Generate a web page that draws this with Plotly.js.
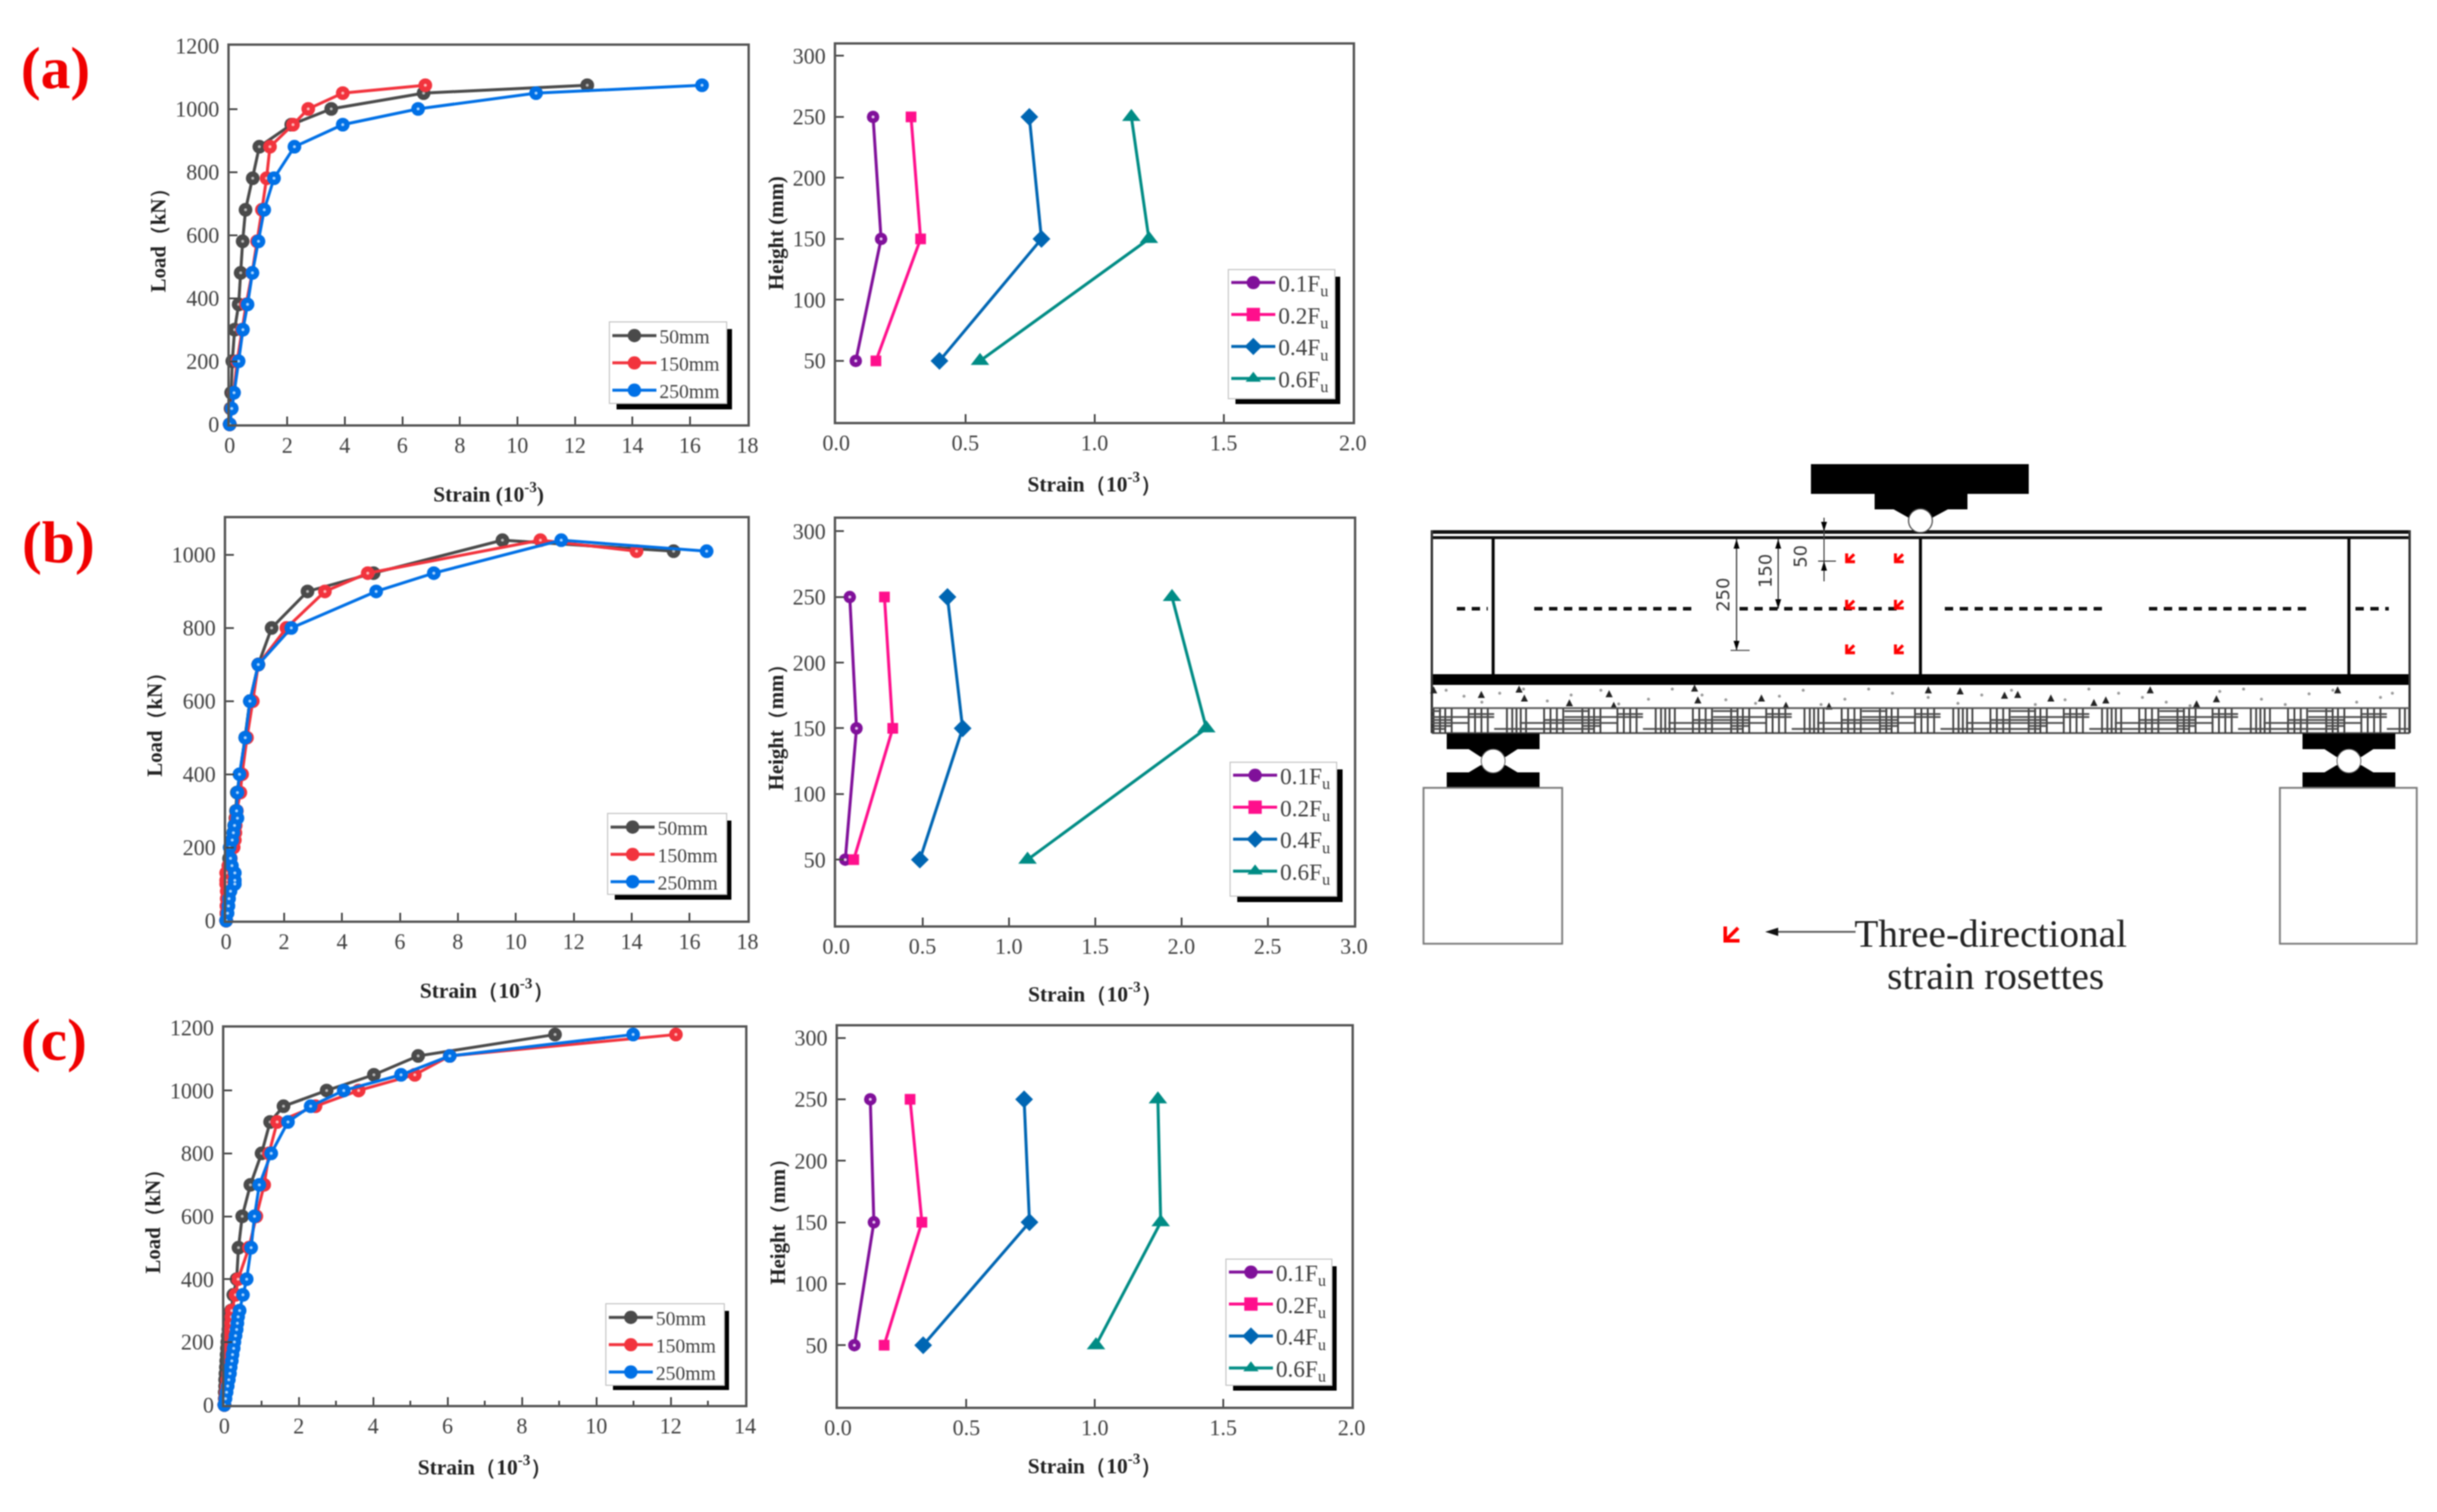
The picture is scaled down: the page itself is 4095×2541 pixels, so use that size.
<!DOCTYPE html>
<html><head><meta charset="utf-8">
<script src="https://cdn.plot.ly/plotly-3.0.1.min.js"></script>
<style>html,body{margin:0;padding:0;background:#fff}#chart{width:4095px;height:2541px;filter:blur(0.8px)}</style>
</head><body><div id="chart"></div>
<script>
// ---------- data ----------
const aLoad50=[1075,1050,1000,950,880,780,680,580,480,380,300,200,100,50,0];
const aStrain50=[12.43,6.74,3.53,2.14,1.03,0.8,0.55,0.45,0.38,0.31,0.17,0.09,0.05,0.03,0];
const aStrain150=[6.8,3.93,2.73,2.2,1.4,1.28,1.12,0.95,0.78,0.57,0.43,0.26,0.14,0.06,0];
const aStrain250=[16.42,10.65,6.55,3.93,2.25,1.54,1.2,1.0,0.79,0.62,0.46,0.31,0.15,0.07,0];

const bLoad=[1010,1040,950,900,800,700,600,500,400,350,300,280,260,240,220,200,170,150,130,110,100,80,60,40,20,0];
const bStrain50=[15.45,9.54,5.09,2.81,1.57,1.11,0.82,0.66,0.48,0.37,0.34,0.32,0.28,0.24,0.2,0.16,0.1,0.08,0.06,0.05,0.05,0.04,0.03,0.02,0.01,0];
const bStrain150=[14.17,10.85,4.89,3.41,2.08,1.11,0.92,0.72,0.55,0.49,0.37,0.34,0.33,0.32,0.3,0.26,0.16,0.08,0,0,0,0.02,0.02,0.01,0.01,0];
const bStrain250=[16.59,11.57,7.17,5.18,2.25,1.11,0.82,0.66,0.46,0.39,0.36,0.39,0.29,0.25,0.21,0.12,0.15,0.2,0.3,0.3,0.3,0.15,0.1,0.08,0.05,0];

const cLoad=[1178,1110,1050,1000,950,900,800,700,600,500,400,350,300,280,260,240,220,200,180,160,140,120,100,80,60,40,20,0];
const cStrain50=[8.89,5.21,4.02,2.75,1.59,1.23,1.0,0.7,0.48,0.38,0.33,0.24,0.18,0.15,0.13,0.11,0.09,0.08,0.07,0.06,0.05,0.04,0.03,0.02,0.02,0.01,0.01,0];
const cStrain150=[12.14,6.06,5.12,3.61,2.45,1.42,1.2,1.07,0.86,0.66,0.37,0.3,0.2,0.19,0.18,0.17,0.16,0.15,0.14,0.13,0.12,0.11,0.1,0.08,0.06,0.04,0.02,0];
const cStrain250=[10.99,6.06,4.75,3.21,2.32,1.71,1.26,0.94,0.81,0.72,0.6,0.5,0.41,0.37,0.35,0.33,0.3,0.27,0.25,0.22,0.2,0.17,0.15,0.12,0.09,0.06,0.03,0];

const heights=[250,150,50];
const aF1=[0.143,0.174,0.076], aF2=[0.29,0.327,0.154], aF4=[0.748,0.795,0.40], aF6=[1.143,1.211,0.557];
const bF1=[0.079,0.118,0.053], bF2=[0.28,0.328,0.102], bF4=[0.645,0.733,0.485], bF6=[1.946,2.145,1.109];
const cF1=[0.126,0.14,0.064], cF2=[0.281,0.327,0.18], cF4=[0.725,0.746,0.332], cF6=[1.246,1.257,1.005];

const loadNames=['50mm','150mm','250mm'];
const ratioNames=['0.1F<sub>u</sub>','0.2F<sub>u</sub>','0.4F<sub>u</sub>','0.6F<sub>u</sub>'];
const panelLetters=['(a)','(b)','(c)'];
const loadColors=['#4a4a4a','#f2333d','#0070e6'];
const loadCore=['#b8b8b8','#ffb8b8','#a8d4ff'];
const ratioColors=['#80109a','#ff0f8c','#0066b3','#008c85'];
const ratioSymbols=['circle','square','diamond','triangle-up'];
const ratioSizes=[21,18,23,27];

// ---------- page geometry ----------
const W=4095,H=2541;
const SERIF='"Liberation Serif","Times New Roman",serif';
const px=x=>x/W, py=y=>1-y/H;
const INK='#555555', TXT='#404040';

const panels=[
 {box:[386,1256,77,713], xr:[0,18], xd:2, yr:[0,1200], yd:200, kind:'load', xt:'Strain (10<sup>-3</sup>)', yt:'Load（kN）', xs:50,
  s:[aStrain50,aStrain150,aStrain250], ys:[aLoad50,aLoad50,aLoad50], lg:[1024,1221,541,678,1230,688]},
 {box:[1405,2273,74.5,709], xr:[0,2], xd:0.5, yr:[0,309.5], yd:50, kind:'ratio', xt:'Strain（10<sup>-3</sup>）', yt:'Height (mm)', xs:37,
  s:[aF1,aF2,aF4,aF6], lg:[2064,2243,453,670,2252,679]},
 {box:[380,1256,871,1547], xr:[0,18], xd:2, yr:[0,1100], yd:200, kind:'load', xt:'Strain（10<sup>-3</sup>）', yt:'Load（kN）', xs:50,
  s:[bStrain50,bStrain150,bStrain250], ys:[bLoad,bLoad,bLoad], lg:[1021,1221,1367,1503,1229,1512]},
 {box:[1405,2275,872,1555], xr:[0,3], xd:0.5, yr:[0,309.5], yd:50, kind:'ratio', xt:'Strain（10<sup>-3</sup>）', yt:'Height（mm）', xs:48,
  s:[bF1,bF2,bF4,bF6], lg:[2067,2246,1281,1506,2256,1516]},
 {box:[377,1252,1727,2361], xr:[0,14], xd:2, minor:1, yr:[0,1200], yd:200, kind:'load', xt:'Strain（10<sup>-3</sup>）', yt:'Load（kN）', xs:37,
  s:[cStrain50,cStrain150,cStrain250], ys:[cLoad,cLoad,cLoad], lg:[1018,1217,2191,2328,1225,2336]},
 {box:[1408,2271,1724.5,2364], xr:[0,2], xd:0.5, yr:[0,309.5], yd:50, kind:'ratio', xt:'Strain（10<sup>-3</sup>）', yt:'Height（mm）', xs:32,
  s:[cF1,cF2,cF4,cF6], lg:[2060,2238,2116,2328,2246,2337]}
];

const traces=[], shapes=[], annotations=[];
const layout={width:W,height:H,margin:{l:0,r:0,t:0,b:0},paper_bgcolor:'#fff',plot_bgcolor:'#fff',showlegend:true,
  font:{family:SERIF,color:TXT}};

function rect(x0,x1,y0,y1,fill,line,lw){shapes.push({type:'rect',xref:'paper',yref:'paper',x0:px(x0),x1:px(x1),y0:py(y0),y1:py(y1),
  fillcolor:fill||'rgba(0,0,0,0)',line:{color:line||'rgba(0,0,0,0)',width:lw||0},layer:'above'});}
function seg(x0,y0,x1,y1,color,w,dash){shapes.push({type:'line',xref:'paper',yref:'paper',x0:px(x0),x1:px(x1),y0:py(y0),y1:py(y1),
  line:{color:color,width:w,dash:dash||'solid'},layer:'above'});}
function poly(points,fill,line,lw){
  const d=points.map((p,i)=>(i?'L':'M')+(p[0]/W)+','+(1-p[1]/H)).join(' ')+' Z';
  shapes.push({type:'path',xref:'paper',yref:'paper',path:d,fillcolor:fill,line:{color:line||fill,width:lw||0},layer:'above'});
}
function open(points,color,w){
  const d=points.map((p,i)=>(i?'L':'M')+(p[0]/W)+','+(1-p[1]/H)).join(' ');
  shapes.push({type:'path',xref:'paper',yref:'paper',path:d,line:{color:color,width:w},layer:'above'});
}
function circ(cx,cy,r,fill,line,lw){shapes.push({type:'circle',xref:'paper',yref:'paper',x0:px(cx-r),x1:px(cx+r),y0:py(cy+r),y1:py(cy-r),
  fillcolor:fill,line:{color:line||fill,width:lw||0},layer:'above'});}
function text(t,x,y,size,opt){annotations.push(Object.assign({text:t,xref:'paper',yref:'paper',x:px(x),y:py(y),showarrow:false,
  xanchor:'center',yanchor:'middle',font:{family:SERIF,size:size,color:'#222'}},opt||{}));}

panels.forEach((p,i)=>{
  const n=i+1, xk=n===1?'xaxis':'xaxis'+n, yk=n===1?'yaxis':'yaxis'+n, lk=n===1?'legend':'legend'+n;
  const [l,r,t,b]=p.box;
  layout[xk]={domain:[px(l),px(r)],range:p.xr,anchor:n===1?'y':'y'+n,dtick:p.xd,tick0:0,ticks:'inside',ticklen:13,tickwidth:3,tickcolor:'#444',
    showline:true,mirror:true,linecolor:INK,linewidth:4,showgrid:false,zeroline:false,
    tickfont:{family:SERIF,size:37,color:TXT},ticklabelstandoff:0,
    tickformat:p.kind==='ratio'?'.1f':'d',
    title:{text:p.xt,standoff:p.xs,font:{family:SERIF,size:36,weight:700,color:'#222'}}};
  if(p.minor) layout[xk].minor={dtick:p.minor,ticks:'inside',ticklen:7,tickwidth:3,tickcolor:'#444',showgrid:false};
  layout[yk]={domain:[py(b),py(t)],range:p.yr,anchor:n===1?'x':'x'+n,dtick:p.yd,tick0:0,ticks:'inside',ticklen:13,tickwidth:3,tickcolor:'#444',
    showline:true,mirror:true,linecolor:INK,linewidth:4,showgrid:false,zeroline:false,
    tickfont:{family:SERIF,size:37,color:TXT},ticklabelstandoff:6,
    title:{text:p.yt,standoff:6,font:{family:SERIF,size:35,weight:700,color:'#222'}}};
  if(p.kind==='ratio'){layout[yk].tickmode='array';layout[yk].tickvals=[50,100,150,200,250,300];}
  // legend frame with its hard black shadow
  const g=p.lg;
  rect(g[0]+12,g[4],g[2]+12,g[5],'#000');
  rect(g[0],g[1],g[2],g[3],'#fff','#c8c8c8',2);
  layout[lk]={x:px(g[0]),y:py(g[2]-(p.kind==='load'?5:10)),xanchor:'left',yanchor:'top',bgcolor:'rgba(0,0,0,0)',borderwidth:0,
    itemwidth:74,tracegroupgap:0,traceorder:'normal',font:{family:SERIF,size:p.kind==='load'?33:39,color:TXT}};
  const names=p.kind==='load'?loadNames:ratioNames;
  names.forEach((nm,k)=>{
    const color=p.kind==='load'?loadColors[k]:ratioColors[k];
    const sym=p.kind==='load'?'circle':ratioSymbols[k];
    const ball=p.kind==='load'||k===0;
    const xs=p.s[k], ys=p.kind==='load'?p.ys[k]:heights;
    const xa=n===1?'x':'x'+n, ya=n===1?'y':'y'+n;
    traces.push({type:'scatter',mode:'lines+markers',name:nm,x:xs,y:ys,xaxis:xa,yaxis:ya,legend:lk,cliponaxis:false,
      line:{color:color,width:5},marker:{color:color,symbol:sym,size:p.kind==='load'?23:ratioSizes[k],line:{color:color,width:0}}});
    if(ball) traces.push({type:'scatter',mode:'markers',name:nm+' highlight',showlegend:false,hoverinfo:'skip',x:xs,y:ys,xaxis:xa,yaxis:ya,cliponaxis:false,
      marker:{color:p.kind==='load'?loadCore[k]:'#e8c8f0',size:5,line:{width:0}}});
  });
});

panelLetters.forEach((t,i)=>{
  text(t,[93,98,90][i],[115,911,1747][i],100,{font:{family:SERIF,size:100,color:'#f00000',weight:700}});
});

// ---------- schematic of the test beam ----------
const beamL=2406,beamR=4049;
const stiffeners=[2509,3227,3947];
const dashRuns=[[2448,2500],[2578,2845],[2923,3190],[3268,3535],[3611,3880],[3958,4014]];
const rosetteX=[3110,3192], rosetteY=[937,1015,1090];
const flecks=[[53,677],[125,690],[182,675],[190,700],[258,713],[318,688],[325,720],[447,672],[452,705],[548,700],[585,720],[650,722],[800,677],[848,680],[915,692],[935,690],[985,700],[1050,712],[1068,705],[1135,677],[1205,716],[1235,702],[1418,677]];
const specks=[[2460,1170],[2520,1165],[2600,1178],[2690,1160],[2770,1175],[2860,1168],[2950,1182],[3030,1160],[3100,1175],[3180,1165],[3290,1182],[3380,1160],[3470,1176],[3560,1165],[3640,1180],[3730,1162],[3800,1175],[3880,1166],[3960,1180],[4020,1165],[2430,1160],[2490,1180],[2560,1158],[2640,1168],[2720,1183],[2810,1158],[2900,1176],[2990,1170],[3060,1184],[3140,1158],[3240,1172],[3330,1168],[3420,1184],[3510,1158],[3600,1172],[3680,1186],[3770,1158],[3840,1184],[3920,1160],[4000,1172]];
const hatchV=[25,55,80,110,190,220,250,280,370,395,415,435,460,545,575,605,635];
const hatchH=[[225,-60,310],[255,430,890],[285,310,780],[195,640,760],[210,190,310],[240,545,810],[270,25,110]];

// load head
poly([[3043,780],[3409,780],[3409,830],[3306,830],[3306,856],[3273,856],[3247,870],[3207,870],[3182,856],[3150,856],[3150,830],[3043,830]],'#000');
// beam flanges and web
rect(beamL,beamR,891,897,'#111');
rect(beamL,beamR,901,906,'#111');
rect(beamL,beamR,1133,1151,'#000');
seg(beamL,891,beamL,1232,'#333',4);
seg(beamR,891,beamR,1232,'#333',4);
stiffeners.forEach(x=>seg(x,905,x,1134,'#000',5));
circ(3227,875,20,'#fff','#444',2);
// stirrup line
dashRuns.forEach(r=>seg(r[0],1023,r[1],1023,'#111',6,'14px,11px'));
// concrete and reinforcement
flecks.forEach(f=>{const x=2350+f[0]/0.8986,y=750+f[1]/1.6505;poly([[x-6,y+5],[x,y-7],[x+6,y+5]],'#222');});
specks.forEach(d=>circ(d[0],d[1],2.5,'#999'));
seg(beamL,1190,beamR,1190,'#555',3);
seg(beamL,1232,beamR,1232,'#444',3);
{
  const sx=z=>2400+z/2.8, sy=z=>1130+z/3;
  let dv='',dh='';
  for(let k=-1;k<7;k++){
    hatchV.forEach(v=>{const x=sx(v+700*k);if(x>=beamL&&x<=beamR) dv+='M'+(x/W)+','+py(1191)+' L'+(x/W)+','+py(1232)+' ';});
    hatchH.forEach(h=>{const a=Math.max(beamL,sx(h[1]+700*k)),b=Math.min(beamR,sx(h[2]+700*k));if(a<b) dh+='M'+(a/W)+','+py(sy(h[0]))+' L'+(b/W)+','+py(sy(h[0]))+' ';});
  }
  shapes.push({type:'path',xref:'paper',yref:'paper',path:dv,line:{color:'#3a3a3a',width:3},layer:'above'});
  shapes.push({type:'path',xref:'paper',yref:'paper',path:dh,line:{color:'#4a4a4a',width:3},layer:'above'});
}
// supports and pedestals
[[2509,2392,2625],[3947,3831,4061]].forEach(s=>{
  const c=s[0];
  poly([[c-78,1233],[c+78,1233],[c+78,1259],[c+41,1259],[c+21,1272],[c-21,1272],[c-41,1259],[c-78,1259]],'#000');
  poly([[c-78,1325],[c+78,1325],[c+78,1298],[c+41,1298],[c+21,1286],[c-21,1286],[c-41,1298],[c-78,1298]],'#000');
  circ(c,1279,20,'#fff','#555',1.5);
  rect(s[1],s[2],1324,1586,'#fff','#777',3);
});
// dimension lines
seg(2918,906,2918,1093,'#333',2); seg(2908,1093,2940,1093,'#555',2);
seg(2988,906,2988,1023,'#333',2);
seg(3065,870,3065,977,'#444',2); seg(3055,943,3085,943,'#444',2);
[[2918,906,1],[2918,1093,-1],[2988,906,1],[2988,1023,-1],[3065,893,-1],[3065,943,1]].forEach(a=>{
  poly([[a[0],a[1]],[a[0]-5,a[1]+a[2]*16],[a[0]+5,a[1]+a[2]*16]],'#000');
});
text('250',2895,1000,30,{textangle:-90,font:{family:'DejaVu Sans',size:30,color:'#333'}});
text('150',2966,960,30,{textangle:-90,font:{family:'DejaVu Sans',size:30,color:'#333'}});
text('50',3026,935,30,{textangle:-90,font:{family:'DejaVu Sans',size:30,color:'#333'}});
// rosettes
function rosette(x,y,s){
  const o=s/2, w=s>20?6:5;
  open([[x-o,y-o],[x-o,y+o],[x+o,y+o]],'#ff0000',w);
  open([[x-o,y+o],[x+o*0.8,y-o*0.8]],'#ff0000',w);
}
rosetteX.forEach(x=>rosetteY.forEach(y=>rosette(x,y,14)));
rosette(2911,1569,24);
seg(3118,1566,2985,1566,'#555',3);
poly([[2966,1566],[2988,1559],[2988,1573]],'#111');
text('Three-directional',3345,1568,66,{font:{family:SERIF,size:66,color:'#222'}});
text('strain rosettes',3353,1639,66,{font:{family:SERIF,size:66,color:'#222'}});

layout.shapes=shapes; layout.annotations=annotations;
Plotly.newPlot('chart',traces,layout,{displayModeBar:false,staticPlot:true}).then(gd=>{
  // the library caps legend glyphs at 16px; scale them to the size used in the reference
  gd.querySelectorAll('.legendpoints path.scatterpts').forEach(el=>{
    const t=el.getAttribute('transform')||'';
    el.setAttribute('transform',t+' scale(1.4)');
  });
});
</script></body></html>
